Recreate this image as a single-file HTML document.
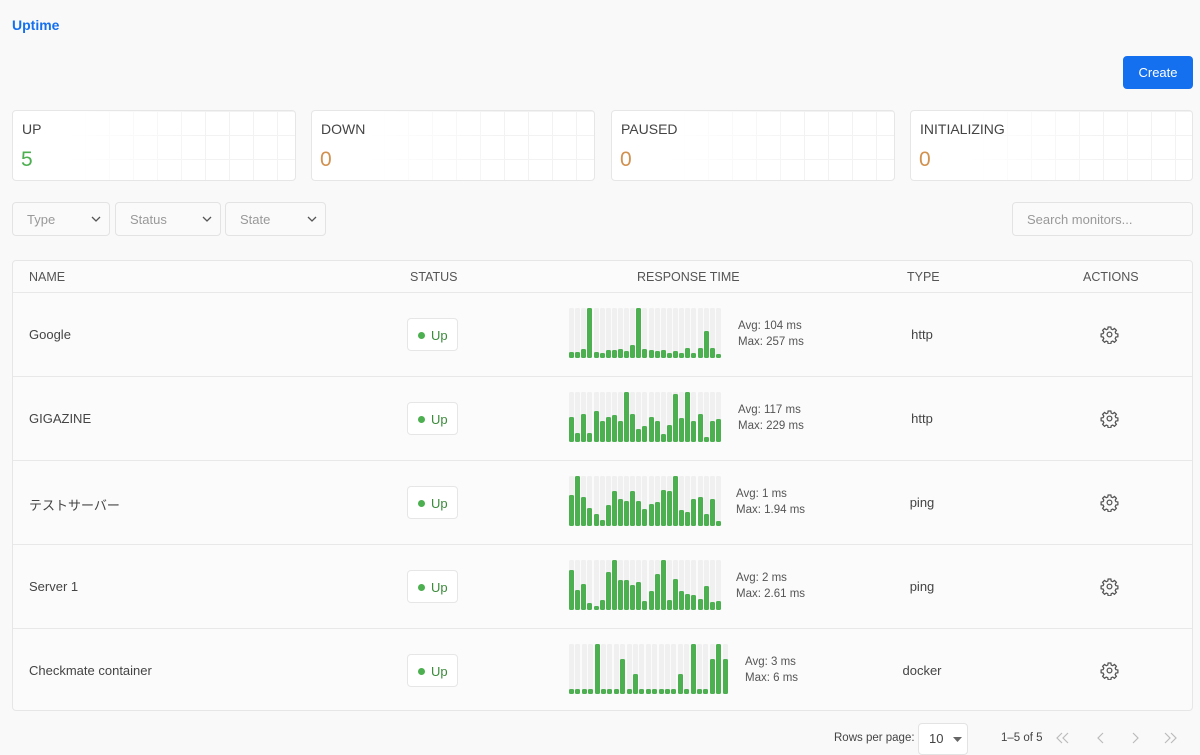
<!DOCTYPE html>
<html><head><meta charset="utf-8">
<style>
*{box-sizing:border-box;margin:0;padding:0}
body{width:1200px;height:752px;background:#f9f9f9;font-family:"Liberation Sans","Noto Sans CJK JP",sans-serif;color:#444;position:relative;overflow:hidden}
.a{position:absolute}
.card{position:absolute;top:110px;width:284px;height:71px;border:1px solid #e6e6e6;border-radius:4px;background:#fff;overflow:hidden}
.card .g{position:absolute;inset:0;background-image:linear-gradient(#f2f2f2 1px,transparent 1px),linear-gradient(90deg,#f2f2f2 1px,transparent 1px);background-size:24px 24px;-webkit-mask-image:linear-gradient(90deg,transparent 20%,#000 70%);mask-image:linear-gradient(90deg,transparent 20%,#000 70%)}
.card .l{position:absolute;left:9px;top:10px;font-size:14px;color:#444}
.card .n{position:absolute;left:8px;top:37px;font-size:21px;color:#d1914f}
.sel{position:absolute;top:202px;height:34px;border:1px solid #e3e3e3;border-radius:4px;background:#fafafa;font-size:13px;color:#999;padding:9px 0 0 14px}
.sel svg{position:absolute;right:8px;top:13px}
.tbl{position:absolute;left:12px;top:260px;width:1181px;height:451px;border:1px solid #e6e6e6;border-radius:4px;background:#fbfbfb}
.hd{position:absolute;top:270px;font-size:12.5px;color:#555}
.row{position:absolute;left:13px;width:1179px;border-top:1px solid #e8e8e8}
.name{position:absolute;font-size:13px;color:#444;left:29px}
.badge{position:absolute;left:407px;width:51px;height:33px;border:1px solid #e6e6e6;border-radius:4px;background:#fff;font-size:13px;color:#3a8b3a;padding:9px 0 0 10px}
.badge i{display:inline-block;width:7px;height:7px;border-radius:50%;background:#4caf50;margin-right:6px;vertical-align:1px}
.stat{position:absolute;font-size:11.5px;color:#555;line-height:16px}
.type{position:absolute;font-size:13px;color:#444;width:80px;text-align:center;left:882px}
.gear{position:absolute;left:1100px}
.bars{position:absolute;left:569px;height:50px}
.bars div{position:absolute;bottom:0;width:5px;border-radius:1.5px}
</style></head><body>
<div class="a" style="left:12px;top:17px;font-size:14px;font-weight:bold;color:#1570ef">Uptime</div>
<div class="a" style="left:1123px;top:56px;width:70px;height:33px;background:#1570ef;border-radius:4px;color:#fff;font-size:13px;text-align:center;line-height:33px">Create</div>

<div class="card" style="left:12px"><div class="g"></div><div class="l">UP</div><div class="n" style="color:#4caf50">5</div></div>
<div class="card" style="left:311px"><div class="g"></div><div class="l">DOWN</div><div class="n">0</div></div>
<div class="card" style="left:611px"><div class="g"></div><div class="l">PAUSED</div><div class="n">0</div></div>
<div class="card" style="left:910px;width:283px"><div class="g"></div><div class="l">INITIALIZING</div><div class="n">0</div></div>

<div class="sel" style="left:12px;width:98px">Type<svg width="10" height="6"><path d="M1 1l4 4 4-4" stroke="#555" fill="none" stroke-width="1.3"/></svg></div>
<div class="sel" style="left:115px;width:106px">Status<svg width="10" height="6"><path d="M1 1l4 4 4-4" stroke="#555" fill="none" stroke-width="1.3"/></svg></div>
<div class="sel" style="left:225px;width:101px">State<svg width="10" height="6"><path d="M1 1l4 4 4-4" stroke="#555" fill="none" stroke-width="1.3"/></svg></div>
<div class="sel" style="left:1012px;width:181px">Search monitors...</div>

<div class="tbl"></div>
<div class="hd" style="left:29px">NAME</div>
<div class="hd" style="left:410px">STATUS</div>
<div class="hd" style="left:637px">RESPONSE TIME</div>
<div class="hd" style="left:907px">TYPE</div>
<div class="hd" style="left:1083px">ACTIONS</div>
<div id="rows"></div>

<div class="a" style="left:834px;top:732px;font-size:11.5px;color:#444">Rows per page:</div>
<div class="a" style="left:918px;top:723px;width:50px;height:32px;border:1px solid #e3e3e3;border-radius:4px;background:#fff;font-size:13px;padding:7px 0 0 10px">10<svg style="position:absolute;left:34px;top:13px" width="9" height="5"><path d="M0 0h9l-4.5 5z" fill="#666"/></svg></div>
<div class="a" style="left:1001px;top:732px;font-size:11.5px;color:#444">1–5 of 5</div>
<svg class="a" style="left:1050px;top:728px" width="140" height="20" fill="none" stroke="#bbb" stroke-width="1.2">
<path d="M12 5l-5 5 5 5M18 5l-5 5 5 5"/><path d="M53 5l-5 5 5 5"/><path d="M83 5l5 5-5 5"/><path d="M115 5l5 5-5 5M121 5l5 5-5 5"/></svg>

<script>
var data=[
["Google","Avg: 104 ms","Max: 257 ms","http",[.12,.12,.17,1,.12,.09,.15,.15,.18,.13,.25,1,.17,.15,.13,.15,.1,.13,.1,.19,.1,.2,.53,.19,.08],738,6.12],
["GIGAZINE","Avg: 117 ms","Max: 229 ms","http",[.5,.18,.55,.18,.62,.42,.5,.54,.41,1,.55,.25,.32,.5,.42,.15,.34,.95,.48,1,.42,.57,.1,.42,.45],738,6.12],
["テストサーバー","Avg: 1 ms","Max: 1.94 ms","ping",[.61,1,.58,.35,.23,.12,.42,.7,.54,.5,.7,.5,.33,.43,.48,.71,.69,1,.31,.28,.54,.58,.23,.54,.09],736,6.12],
["Server 1","Avg: 2 ms","Max: 2.61 ms","ping",[.8,.4,.52,.13,.08,.19,.75,1,.59,.59,.49,.55,.18,.37,.72,1,.2,.61,.38,.32,.3,.22,.48,.15,.17],736,6.12],
["Checkmate container","Avg: 3 ms","Max: 6 ms","docker",[.09,.09,.09,.09,1,.09,.09,.09,.7,.09,.4,.09,.09,.09,.09,.09,.09,.4,.09,1,.09,.09,.7,1,.7],745,6.4]
];
var h="";
data.forEach(function(d,i){
 var t=292+i*84;
 h+='<div class="row" style="top:'+t+'px;height:84px"></div>';
 h+='<div class="name" style="top:'+(t+35)+'px">'+d[0]+'</div>';
 h+='<div class="badge" style="top:'+(t+26)+'px"><i></i>Up</div>';
 var b='<div class="bars" style="top:'+(t+16)+'px;width:'+(d[6]*25)+'px">';
 d[4].forEach(function(v,j){
  b+='<div style="left:'+(j*d[6]).toFixed(1)+'px;height:50px;background:#f0f0f0"></div>';
  b+='<div style="left:'+(j*d[6]).toFixed(1)+'px;height:'+Math.max(4,Math.round(v*50))+'px;background:#4caf50"></div>';
 });
 h+=b+'</div>';
 h+='<div class="stat" style="left:'+d[5]+'px;top:'+(t+26)+'px">'+d[1]+'<br>'+d[2]+'</div>';
 h+='<div class="type" style="top:'+(t+35)+'px">'+d[3]+'</div>';
 h+='<svg class="gear" style="top:'+(t+33)+'px" width="19" height="19" viewBox="0 0 24 24" fill="none" stroke="#555" stroke-width="1.6"><circle cx="12" cy="12" r="3"/><path d="M10.3 2.5h3.4l.5 2.6 1.9.8 2.2-1.5 2.4 2.4-1.5 2.2.8 1.9 2.6.5v3.4l-2.6.5-.8 1.9 1.5 2.2-2.4 2.4-2.2-1.5-1.9.8-.5 2.6h-3.4l-.5-2.6-1.9-.8-2.2 1.5-2.4-2.4 1.5-2.2-.8-1.9-2.6-.5v-3.4l2.6-.5.8-1.9-1.5-2.2 2.4-2.4 2.2 1.5 1.9-.8z"/></svg>';
});
document.getElementById("rows").innerHTML=h;
</script>
</body></html>
